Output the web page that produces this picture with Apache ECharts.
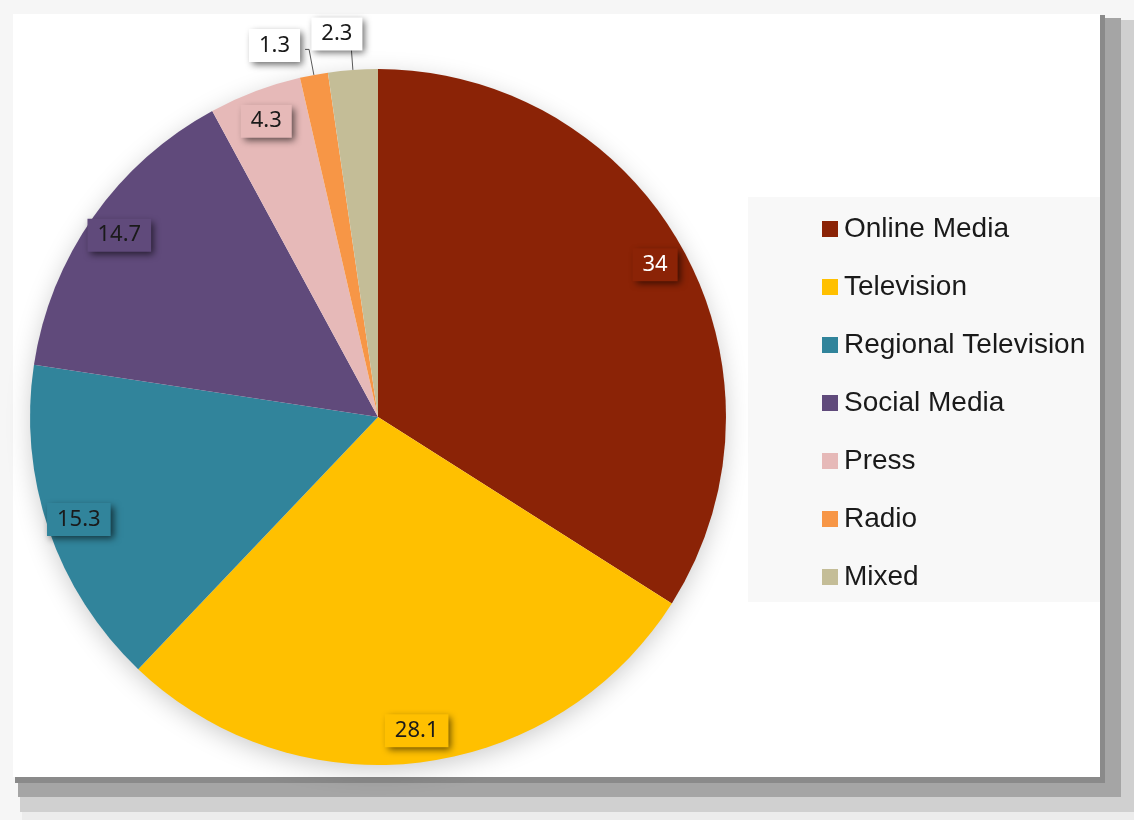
<!DOCTYPE html>
<html>
<head>
<meta charset="utf-8">
<style>
  html, body { margin: 0; padding: 0; background: #f6f6f6; }
  #chart { width: 1134px; height: 820px; }
</style>
<script src="https://cdn.jsdelivr.net/npm/echarts@6/dist/echarts.min.js"></script>
</head>
<body>
<div id="chart"></div>
<script>
// Share of news sources (%)
const categories = ['Online Media', 'Television', 'Regional Television', 'Social Media', 'Press', 'Radio', 'Mixed'];
const shares = [34, 28.1, 15.3, 14.7, 4.3, 1.3, 2.3];
const colors = ['#8b2306', '#ffc000', '#31849b', '#604a7b', '#e6b9b8', '#f79646', '#c4bd97'];
const smallSlices = ['Radio', 'Mixed'];

const R = 348;
const center = [378, 417];

const labelFont = '"Noto Sans", "DejaVu Sans", sans-serif';

const baseData = categories.map((name, i) => ({
  name, value: shares[i], itemStyle: { color: colors[i] }
}));

// Label ring: a transparent pie whose inside labels sit near the rim
const labelData = categories.map((name, i) => {
  const small = smallSlices.includes(name);
  return {
    name,
    value: shares[i],
    label: small ? {
      position: 'outside',
      backgroundColor: '#ffffff',
      color: '#1a1a1a'
    } : {
      position: 'inside',
      backgroundColor: colors[i],
      color: name === 'Online Media' ? '#ffffff' : '#1a1a1a'
    },
    labelLine: small ? {
      show: true,
      length: name === 'Radio' ? 26 : 20,
      length2: name === 'Radio' ? 4 : 0,
      lineStyle: { color: '#595959', width: 1 }
    } : { show: false }
  };
});

const chart = echarts.init(document.getElementById('chart'), null, { renderer: 'canvas' });

chart.setOption({
  animation: false,
  backgroundColor: '#f6f6f6',
  graphic: [
    // framed card with soft drop shadow
    { type: 'rect', z: -10, shape: { x: 22, y: 22, width: 1112, height: 798 }, style: { fill: '#ececec' } },
    { type: 'rect', z: -9, shape: { x: 20, y: 20, width: 1114, height: 792 }, style: { fill: '#d0d0d0' } },
    { type: 'rect', z: -8, shape: { x: 18, y: 18, width: 1103, height: 779 }, style: { fill: '#a5a5a5' } },
    { type: 'rect', z: -7, shape: { x: 15, y: 15, width: 1090, height: 768 }, style: { fill: '#8a8a8a' } },
    { type: 'rect', z: -6, shape: { x: 13, y: 14, width: 1087, height: 763 }, style: { fill: '#ffffff' } },
    // legend panel
    { type: 'rect', z: -5, shape: { x: 748, y: 197, width: 352, height: 405 }, style: { fill: '#f8f8f8' } }
  ],
  legend: {
    orient: 'vertical',
    left: 822,
    top: 215,
    padding: 0,
    icon: 'rect',
    itemWidth: 16,
    itemHeight: 16,
    itemGap: 30,
    selectedMode: false,
    data: categories,
    textStyle: {
      fontFamily: '"Liberation Sans", Arial, sans-serif',
      fontSize: 28,
      lineHeight: 28,
      color: '#1a1a1a',
      padding: [0, 0, 0, 1]
    }
  },
  series: [
    {
      // soft shadow disc under the pie
      type: 'pie',
      name: 'Backdrop',
      center: center,
      radius: [0, R - 2],
      silent: true,
      z: 1,
      label: { show: false },
      labelLine: { show: false },
      itemStyle: {
        color: '#ffffff',
        shadowColor: 'rgba(0,0,0,0.22)',
        shadowBlur: 26,
        shadowOffsetX: 0,
        shadowOffsetY: 6
      },
      data: [{ name: '', value: 1 }]
    },
    {
      type: 'pie',
      name: 'Share',
      center: center,
      radius: [0, R],
      startAngle: 90,
      clockwise: true,
      silent: true,
      z: 2,
      label: { show: false },
      labelLine: { show: false },
      itemStyle: { borderWidth: 0 },
      data: baseData
    },
    {
      type: 'pie',
      name: 'Labels',
      center: center,
      radius: [R * 0.8, R],
      startAngle: 90,
      clockwise: true,
      silent: true,
      z: 3,
      avoidLabelOverlap: false,
      itemStyle: { color: 'rgba(0,0,0,0)' },
      label: {
        show: true,
        formatter: '{c}',
        fontFamily: labelFont,
        fontSize: 22,
        padding: [6, 10, 5, 10],
        shadowColor: 'rgba(0,0,0,0.6)',
        shadowBlur: 7,
        shadowOffsetX: 3,
        shadowOffsetY: 3
      },
      labelLayout: function (params) {
        const name = categories[params.dataIndex];
        if (name === 'Mixed') return { dx: 16, dy: -16 };
        if (name === 'Radio') return { dy: -4 };
        return {};
      },
      data: labelData
    }
  ]
});
</script>
</body>
</html>
